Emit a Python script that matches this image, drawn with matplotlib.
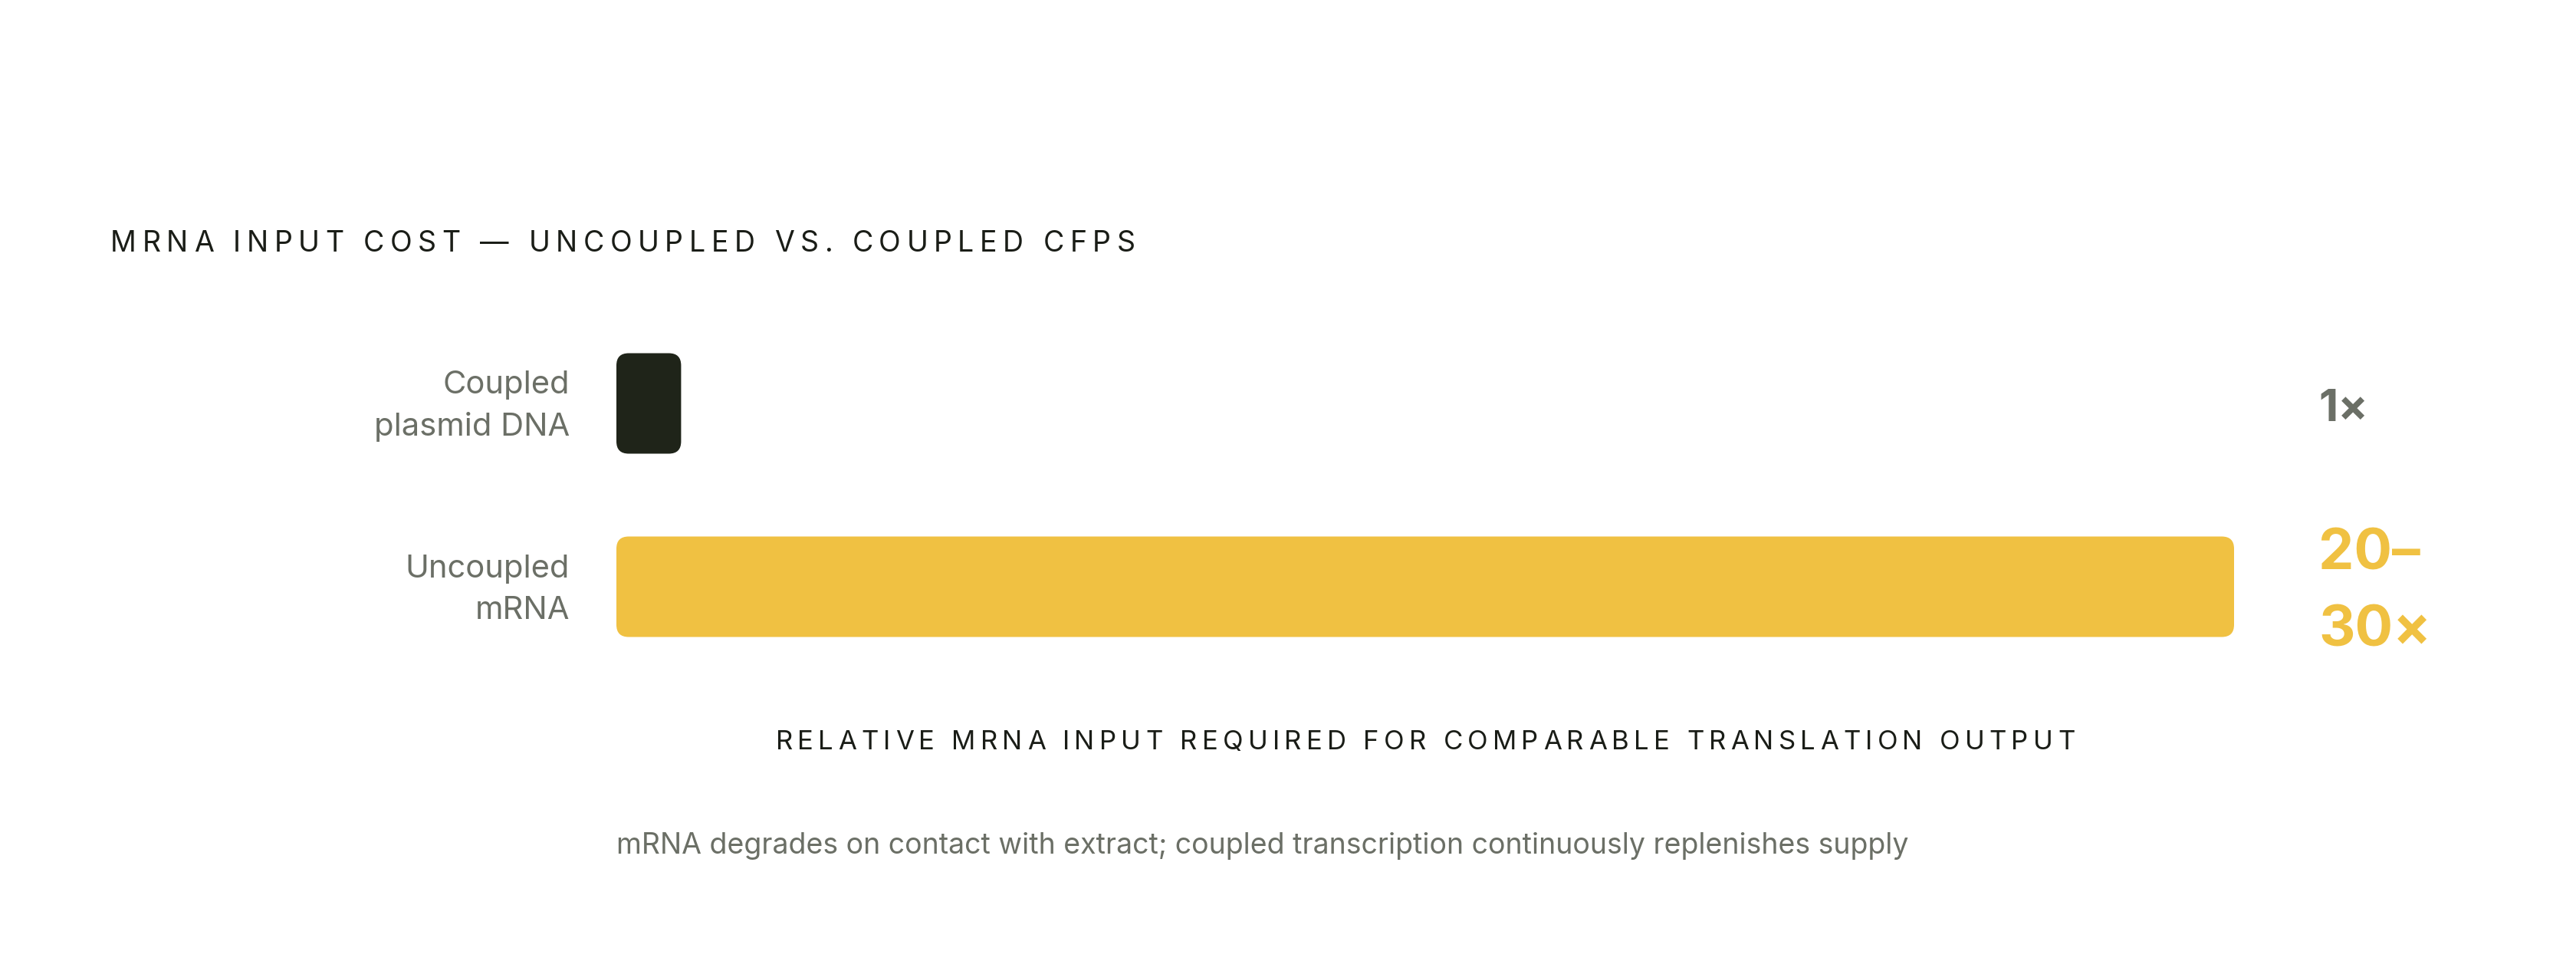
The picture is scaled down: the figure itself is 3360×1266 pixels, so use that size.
import matplotlib
matplotlib.use("Agg")
import matplotlib.pyplot as plt
from matplotlib.patches import FancyBboxPatch
from matplotlib.font_manager import FontProperties, findfont, get_font
from matplotlib.transforms import blended_transform_factory

plt.rcParams['font.family'] = ['Inter', 'DejaVu Sans']

# data
categories = ["Coupled\nplasmid DNA", "Uncoupled\nmRNA"]
relative_input = [1, 25]
value_labels = ["1×", "20–\n30×"]
title = "MRNA INPUT COST — UNCOUPLED VS. COUPLED CFPS"
x_label = "RELATIVE MRNA INPUT REQUIRED FOR COMPARABLE TRANSLATION OUTPUT"
footnote = "mRNA degrades on contact with extract; coupled transcription continuously replenishes supply"

DARK = "#1f2419"
YELLOW = "#f0c142"
GREY = "#6b6f66"
INK = "#1a1d17"
bar_colors = [DARK, YELLOW]
value_colors = [GREY, YELLOW]
value_sizes = [42, 53]

W, H, DPI = 3360, 1266, 100
fig = plt.figure(figsize=(W / DPI, H / DPI), dpi=DPI)
fig.patch.set_facecolor("white")
ax = fig.add_axes([804 / W, 1 - 884.5 / H, 2110 / W, 478 / H])
ax.set_xlim(0, max(relative_input))
ax.set_ylim(1.5, -0.5)
for s in ax.spines.values():
    s.set_visible(False)
ax.set_xticks([])
ax.set_yticks([])

# rounded bars (keep corners circular despite unequal axis scales)
x_per_px = max(relative_input) / ax.bbox.width
y_per_px = 2.0 / ax.bbox.height
bar_h = 131 * y_per_px
radius = 16 * x_per_px
for i, (v, c) in enumerate(zip(relative_input, bar_colors)):
    ax.add_patch(FancyBboxPatch((0, i - bar_h / 2), v, bar_h,
                                boxstyle=f"round,pad=0,rounding_size={radius}",
                                mutation_aspect=y_per_px / x_per_px,
                                facecolor=c, edgecolor="none"))

trans = blended_transform_factory(ax.transAxes, ax.transData)
for i, cat in enumerate(categories):
    ax.annotate(cat, xy=(0, i), xycoords=trans, xytext=(-44, -2.7),
                textcoords="offset points", ha="right", va="center",
                multialignment="right", fontsize=30, color=GREY,
                linespacing=1.52)

for i, (t, c, fs) in enumerate(zip(value_labels, value_colors, value_sizes)):
    ax.annotate(t, xy=(1, i), xycoords=trans, xytext=(79.5, -6),
                textcoords="offset points", ha="left", va="center",
                fontsize=fs, fontweight="bold", color=c, linespacing=1.58)


def tracked_text(x, y, s, size, tracking, color, ha="left"):
    prop = FontProperties(family="Inter", size=size)
    font = get_font(findfont(prop))
    font.set_size(size, DPI)
    adv = [font.load_char(ord(ch)).linearHoriAdvance / 65536 for ch in s]
    extra = tracking * size * DPI / 72
    total = sum(adv) + extra * (len(s) - 1)
    x0 = x - total / 2 if ha == "center" else x
    for ch, a in zip(s, adv):
        fig.text(x0 / W, 1 - y / H, ch, fontproperties=prop, color=color,
                 ha="left", va="baseline")
        x0 += a + extra


tracked_text(144, 328, title, 27, 0.20, INK)
tracked_text(ax.bbox.x0 + ax.bbox.width / 2, 977, x_label, 25, 0.18, INK, ha="center")
fig.text(804 / W, 1 - 1113 / H, footnote, fontsize=27, color=GREY,
         ha="left", va="baseline")

fig.savefig("out.png", dpi=DPI, facecolor="white")
